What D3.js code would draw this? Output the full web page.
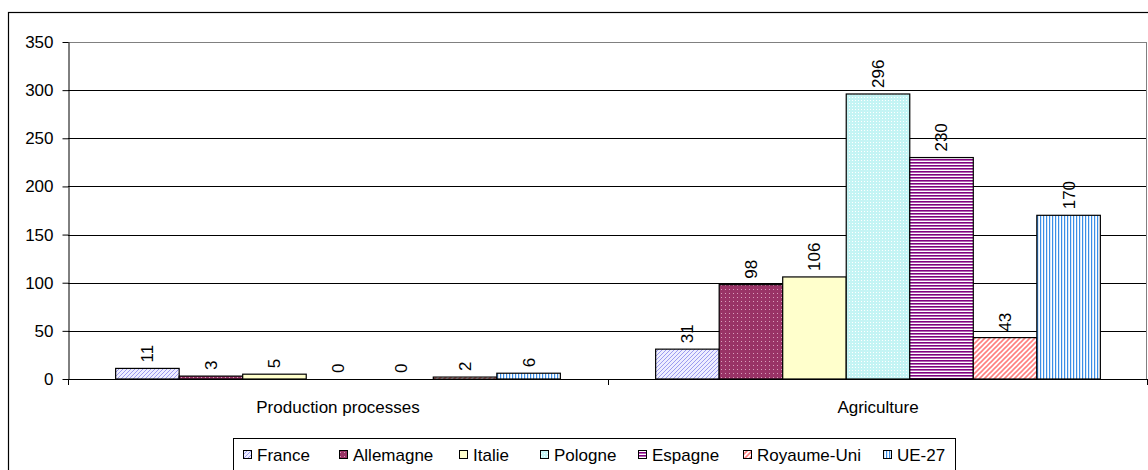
<!DOCTYPE html>
<html><head><meta charset="utf-8">
<script src="https://cdn.jsdelivr.net/npm/d3@7"></script>
<style>
html,body{margin:0;padding:0;background:#fff;}
svg{display:block;font-family:"Liberation Sans",Arial,sans-serif;}
</style></head>
<body>
<svg id="chart" width="1148" height="470"></svg>
<script>
const categories = ["Production processes", "Agriculture"];
const seriesNames = ["France", "Allemagne", "Italie", "Pologne", "Espagne", "Royaume-Uni", "UE-27"];
const productionValues = [11, 3, 5, 0, 0, 2, 6];
const agricultureValues = [31, 98, 106, 296, 230, 43, 170];
const yTicks = [0, 50, 100, 150, 200, 250, 300, 350];

const valuesByCategory = [productionValues, agricultureValues];
const FS = 17;

const svg = d3.select("#chart");
const defs = svg.append("defs");

function pat(id, w, h, bg, draw) {
  const p = defs.append("pattern").attr("id", id).attr("patternUnits", "userSpaceOnUse")
    .attr("width", w).attr("height", h);
  p.append("rect").attr("width", w).attr("height", h).attr("fill", bg);
  draw(p);
}
pat("p0", 4, 4, "#eeeeff", p => {
  p.append("path").attr("d", "M0,4 L4,0 M-1,1 L1,-1 M3,5 L5,3").attr("stroke", "#9c9cf0").attr("stroke-width", 1);
});
pat("p1", 4, 4, "#993366", p => {
  p.append("rect").attr("x", 1).attr("y", 1).attr("width", 1).attr("height", 1).attr("fill", "#d9a0bc");
});
pat("p2", 4, 4, "#ffffcc", p => {});
pat("p3", 3, 3, "#c4f4f4", p => {
  p.append("rect").attr("x", 1).attr("y", 1).attr("width", 1).attr("height", 1).attr("fill", "#ffffff");
});
pat("p4", 3, 3, "#ffffff", p => {
  p.append("rect").attr("x", 0).attr("y", 0).attr("width", 3).attr("height", 1.6).attr("fill", "#800080");
});
pat("p5", 5, 5, "#ffffff", p => {
  p.append("path").attr("d", "M0,5 L5,0 M-1,1 L1,-1 M4,6 L6,4").attr("stroke", "#ff8080").attr("stroke-width", 1.6);
});
pat("p6", 3, 3, "#ffffff", p => {
  p.append("rect").attr("x", 0).attr("y", 0).attr("width", 1.2).attr("height", 3).attr("fill", "#3a8ee6");
});
const fills = seriesNames.map((_, i) => `url(#p${i})`);

svg.append("rect").attr("x", 8.5).attr("y", 12.5).attr("width", 1300).attr("height", 600)
  .attr("fill", "none").attr("stroke", "#000").attr("stroke-width", 1.2);

const pLeft = 68, pRight = 1148, pTop = 42, pBottom = 379;
const x = d3.scaleBand().domain(categories).range([pLeft, pRight]).paddingInner(0).paddingOuter(0);
const xs = d3.scaleBand().domain(seriesNames).range([0, x.bandwidth()]).paddingInner(0).paddingOuter(0.75);
const y = d3.scaleLinear().domain([0, 350]).range([pBottom, pTop]);

svg.append("g").selectAll("line").data(yTicks.filter(t => t > 0)).join("line")
  .attr("x1", pLeft).attr("x2", pRight - 1)
  .attr("y1", d => Math.round(y(d)) + 0.5).attr("y2", d => Math.round(y(d)) + 0.5)
  .attr("stroke", d => d === 350 ? "#808080" : "#000").attr("stroke-width", 1);
svg.append("line").attr("x1", pRight - 1.5).attr("x2", pRight - 1.5).attr("y1", pTop).attr("y2", pBottom)
  .attr("stroke", "#808080");

const yAxis = d3.axisLeft(y).tickValues(yTicks).tickSize(6).tickPadding(9).tickSizeOuter(0);
const gy = svg.append("g").attr("transform", `translate(${pLeft + 0.5},0)`).call(yAxis);
gy.select(".domain").attr("stroke", "#000");
gy.selectAll(".tick line").attr("stroke", "#000");
gy.selectAll("text").attr("font-size", FS).attr("fill", "#000").attr("font-family", "Liberation Sans, Arial, sans-serif");

const groups = svg.append("g").selectAll("g").data(categories).join("g")
  .attr("transform", d => `translate(${x(d)},0)`);
groups.each(function(cat, ci) {
  const g = d3.select(this);
  const vals = valuesByCategory[ci];
  g.selectAll("rect").data(seriesNames).join("rect")
    .attr("x", s => xs(s))
    .attr("y", (s, i) => y(vals[i]))
    .attr("width", xs.bandwidth())
    .attr("height", (s, i) => y(0) - y(vals[i]))
    .attr("fill", (s, i) => fills[i])
    .attr("stroke", "#000").attr("stroke-width", 1.2);
  g.selectAll("text").data(seriesNames).join("text")
    .attr("transform", (s, i) => `translate(${xs(s) + xs.bandwidth() / 2},${y(vals[i]) - 6}) rotate(-90)`)
    .attr("dy", "0.35em")
    .attr("font-size", FS)
    .attr("text-anchor", "start")
    .attr("fill", "#000")
    .text((s, i) => vals[i]);
});

const xAxis = d3.axisBottom(x).tickSize(0).tickPadding(21);
const gx = svg.append("g").attr("transform", `translate(0,${pBottom + 0.5})`).call(xAxis);
gx.select(".domain").attr("stroke", "#000").attr("d", `M${pLeft},0H${pRight}`);
gx.selectAll("text").attr("font-size", FS).attr("fill", "#000").attr("font-family", "Liberation Sans, Arial, sans-serif");
svg.append("g").selectAll("line").data([pLeft, (pLeft + pRight) / 2, pRight - 1]).join("line")
  .attr("x1", d => d + 0.5).attr("x2", d => d + 0.5).attr("y1", pBottom).attr("y2", pBottom + 6)
  .attr("stroke", "#000");

svg.append("rect").attr("x", 233.5).attr("y", 438.5).attr("width", 722).attr("height", 60)
  .attr("fill", "#fff").attr("stroke", "#000").attr("stroke-width", 1);
const legendX = [243, 339, 459, 540, 638, 743, 883];
const lg = svg.append("g").selectAll("g").data(seriesNames).join("g")
  .attr("transform", (d, i) => `translate(${legendX[i]},455)`);
lg.append("rect").attr("x", 0.5).attr("y", -4.5).attr("width", 8).attr("height", 8)
  .attr("fill", (d, i) => fills[i]).attr("stroke", "#000");
lg.append("text").attr("x", 14).attr("dy", "0.35em").attr("font-size", FS).attr("fill", "#000").text(d => d);
</script>
</body></html>
